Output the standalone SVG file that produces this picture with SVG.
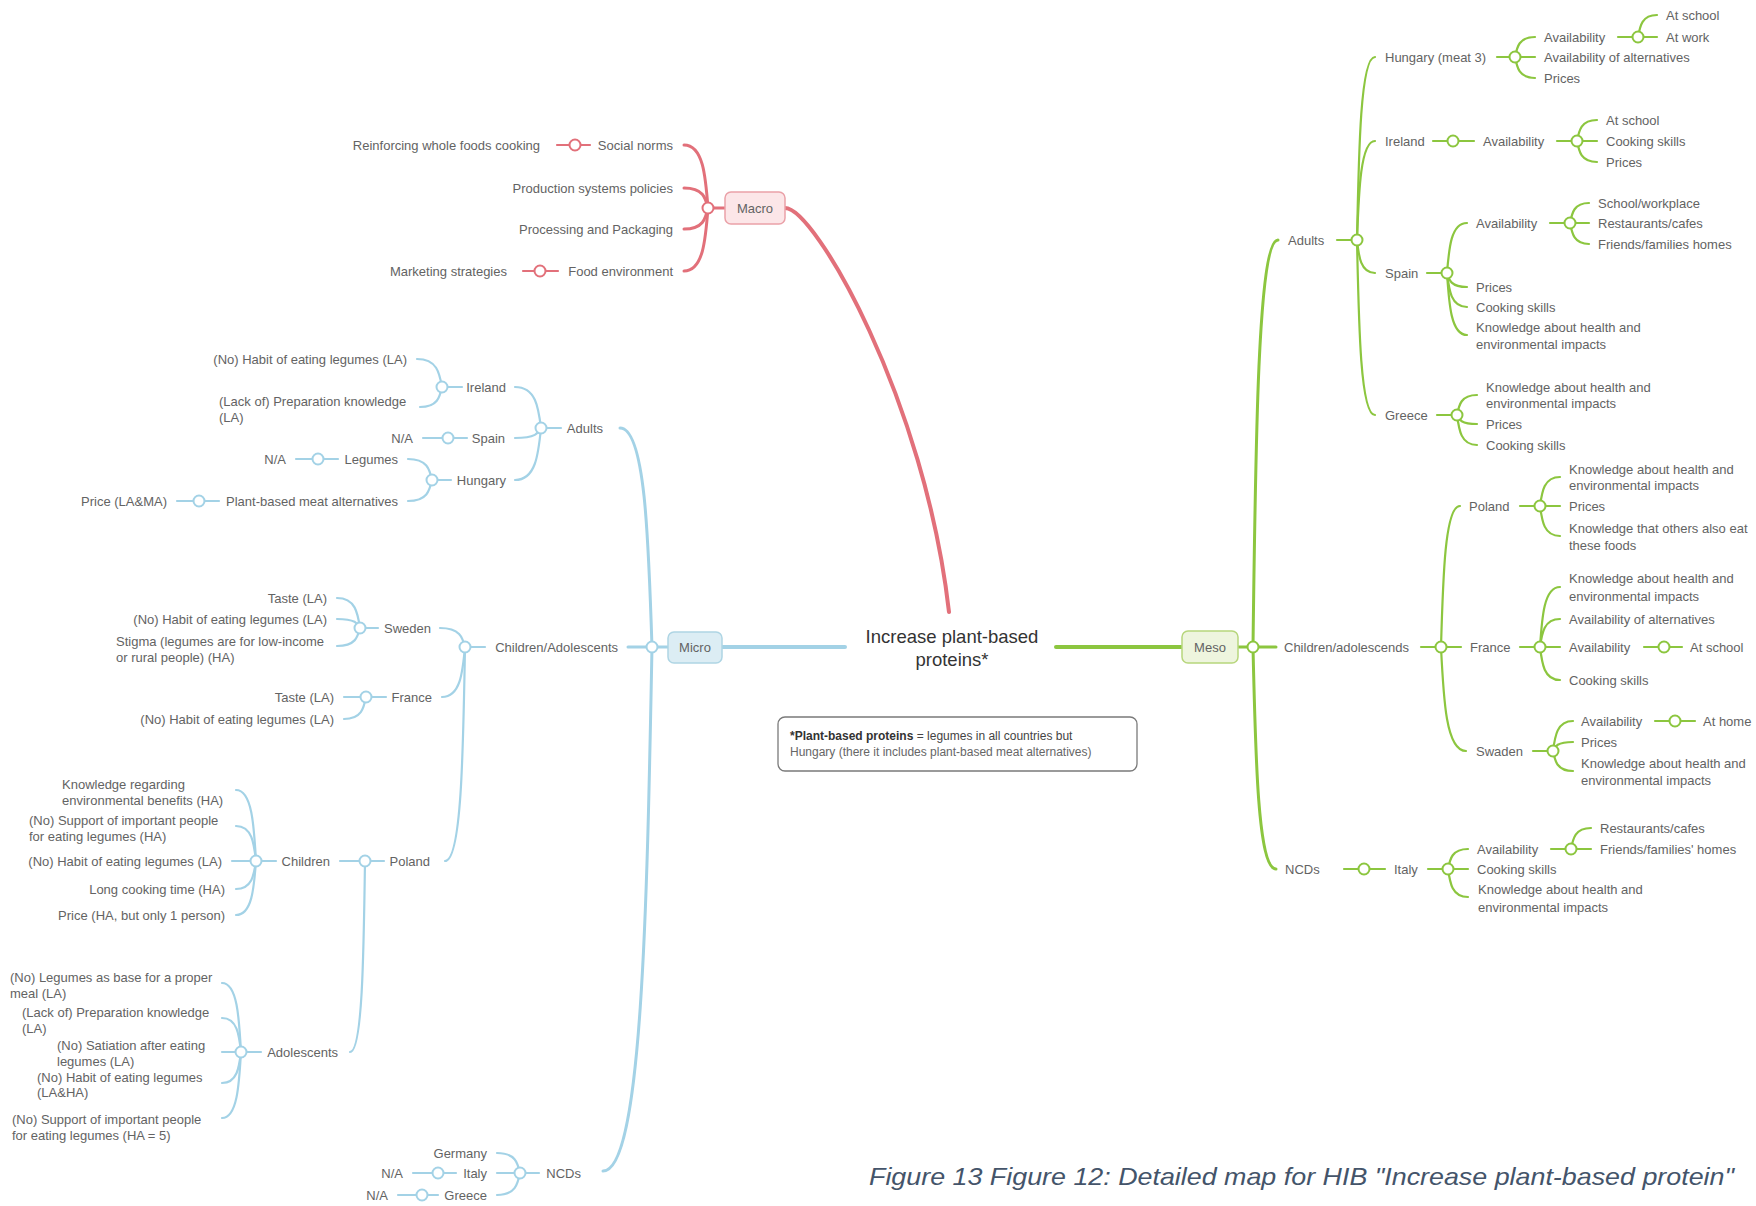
<svg xmlns="http://www.w3.org/2000/svg" width="1756" height="1206" viewBox="0 0 1756 1206">
<style>
text{font-family:"Liberation Sans",Arial,sans-serif;font-size:13px;fill:#636363;dominant-baseline:central}
.e{text-anchor:end}
.m{text-anchor:middle}
.ct{font-size:18.5px;fill:#333}
.c path{fill:none;stroke-linecap:round}
.g{stroke:#8cc63f}
.b{stroke:#a3d2e6}
.r{stroke:#e2707a}
.w1{stroke-width:2.2}
.w2{stroke-width:3}
.w3{stroke-width:4}
circle{fill:#fff;stroke-width:2}
.fn{font-size:12px;fill:#444}
.cap{font-style:italic;font-size:24px;fill:#44546a}
</style>
<rect width="1756" height="1206" fill="#fff"/>
<g id="connectors" class="c">
<path class="r w3" d="M785,208C815,208 925,400 949,612"/>
<path class="b w3" d="M722,647H845"/>
<path class="g w3" d="M1056,647H1182"/>
<g class="r w2">
<path d="M725,208H708"/>
<path d="M708,208C705.6,176.5 703.2,145 684,145"/>
<path d="M708,208C705.6,198 703.2,188 684,188"/>
<path d="M708,208C705.6,218.5 703.2,229 684,229"/>
<path d="M708,208C705.6,239.5 703.2,271 684,271"/>
</g>
<g class="r w1">
<path d="M590,145H557"/>
<path d="M558,271H523"/>
</g>
<g class="g w2">
<path d="M1238,647H1253"/>
<path d="M1253,647C1255.5,443.5 1258,240 1278,240"/>
<path d="M1253,647H1276"/>
<path d="M1253,647C1255.5,758 1258,869 1276,869"/>
</g>
<g class="g w1">
<path d="M1337,240H1357"/>
<path d="M1357,240C1358.8,148.5 1360.6,57 1375,57"/>
<path d="M1357,240C1358.8,190.5 1360.6,141 1375,141"/>
<path d="M1357,240C1358.8,256.5 1360.6,273 1375,273"/>
<path d="M1357,240C1358.8,327.5 1360.6,415 1375,415"/>
<path d="M1497,57H1515"/>
<path d="M1515,57C1517,47 1519,37 1535,37"/>
<path d="M1515,57H1535"/>
<path d="M1515,57C1517,67.5 1519,78 1535,78"/>
<path d="M1618,37H1638"/>
<path d="M1638,37C1640,26 1642,15 1657,15"/>
<path d="M1638,37H1657"/>
<path d="M1433,141H1474"/>
<path d="M1557,141H1577"/>
<path d="M1577,141C1579,130.5 1581,120 1597,120"/>
<path d="M1577,141H1597"/>
<path d="M1577,141C1579,151.5 1581,162 1597,162"/>
<path d="M1427,273H1447"/>
<path d="M1447,273C1449,248 1451,223 1467,223"/>
<path d="M1447,273C1449,280 1451,287 1467,287"/>
<path d="M1447,273C1449,290 1451,307 1467,307"/>
<path d="M1447,273C1449,304 1451,335 1467,335"/>
<path d="M1550,223H1570"/>
<path d="M1570,223C1572,213 1574,203 1589,203"/>
<path d="M1570,223H1589"/>
<path d="M1570,223C1572,233.5 1574,244 1589,244"/>
<path d="M1437,415H1457"/>
<path d="M1457,415C1459,405 1461,395 1477,395"/>
<path d="M1457,415C1459,419.5 1461,424 1477,424"/>
<path d="M1457,415C1459,430 1461,445 1477,445"/>
<path d="M1421,647H1441"/>
<path d="M1441,647C1443,576.5 1445,506 1460,506"/>
<path d="M1441,647H1461"/>
<path d="M1441,647C1443.5,699 1446,751 1466,751"/>
<path d="M1520,506H1540"/>
<path d="M1540,506C1542,491.5 1544,477 1560,477"/>
<path d="M1540,506H1560"/>
<path d="M1540,506C1542,521 1544,536 1560,536"/>
<path d="M1520,647H1540"/>
<path d="M1540,647C1542,617 1544,587 1560,587"/>
<path d="M1540,647C1542,633 1544,619 1560,619"/>
<path d="M1540,647H1560"/>
<path d="M1540,647C1542,663.5 1544,680 1560,680"/>
<path d="M1644,647H1682"/>
<path d="M1533,751H1553"/>
<path d="M1553,751C1555,736 1557,721 1573,721"/>
<path d="M1553,751C1555,746.5 1557,742 1573,742"/>
<path d="M1553,751C1555,761 1557,771 1573,771"/>
<path d="M1655,721H1695"/>
<path d="M1344,869H1385"/>
<path d="M1428,869H1448"/>
<path d="M1448,869C1450,859 1452,849 1468,849"/>
<path d="M1448,869H1468"/>
<path d="M1448,869C1450,883 1452,897 1468,897"/>
<path d="M1551,849H1571"/>
<path d="M1571,849C1573,838.5 1575,828 1591,828"/>
<path d="M1571,849H1591"/>
</g>
<g class="b w2">
<path d="M668,647H652"/>
<path d="M652,647C648.5,537.5 645,428 620,428"/>
<path d="M652,647H628"/>
<path d="M652,647C647,909 642,1171 603,1171"/>
</g>
<g class="b w1">
<path d="M561,428H541"/>
<path d="M541,428C538.4,407.5 535.8,387 515,387"/>
<path d="M541,428C538.4,433 535.8,438 515,438"/>
<path d="M541,428C538.4,454 535.8,480 515,480"/>
<path d="M462,387H442"/>
<path d="M442,387C439.5,373 437,359 417,359"/>
<path d="M442,387C439.8,397 437.6,407 420,407"/>
<path d="M467,438H423"/>
<path d="M451,480H432"/>
<path d="M432,480C429.6,469.5 427.2,459 408,459"/>
<path d="M432,480C429.6,490.5 427.2,501 408,501"/>
<path d="M338,459H296"/>
<path d="M219,501H177"/>
<path d="M485,647H465"/>
<path d="M465,647C462.5,637.5 460,628 440,628"/>
<path d="M465,647C462.7,672 460.4,697 442,697"/>
<path d="M465,647C463.2,754 461.4,861 445,861"/>
<path d="M378,628H360"/>
<path d="M360,628C357.7,613 355.4,598 337,598"/>
<path d="M360,628C357.7,623.5 355.4,619 337,619"/>
<path d="M360,628C357.7,637 355.4,646 337,646"/>
<path d="M386,697H344"/>
<path d="M366,697C363.8,708 361.6,719 344,719"/>
<path d="M384,861H340"/>
<path d="M365,861C363.7,956 362.4,1052 350,1052"/>
<path d="M276,861H256"/>
<path d="M256,861C254,825.5 252,790 236,790"/>
<path d="M256,861C254,843.5 252,826 236,826"/>
<path d="M256,861H232"/>
<path d="M256,861C254,875 252,889 236,889"/>
<path d="M256,861C254,888 252,915 236,915"/>
<path d="M261,1052H241"/>
<path d="M241,1052C239.1,1017.5 237.2,983 222,983"/>
<path d="M241,1052C239.1,1035 237.2,1018 222,1018"/>
<path d="M241,1052H222"/>
<path d="M241,1052C239.1,1067.5 237.2,1083 222,1083"/>
<path d="M241,1052C239.1,1085 237.2,1118 222,1118"/>
<path d="M539,1173H520"/>
<path d="M520,1173C517.7,1163 515.4,1153 497,1153"/>
<path d="M520,1173H497"/>
<path d="M520,1173C517.7,1184 515.4,1195 497,1195"/>
<path d="M456,1173H413"/>
<path d="M438,1195H398"/>
</g>
</g>

<g id="center">
<text class="ct m" x="952" y="636">Increase plant-based</text>
<text class="ct m" x="952" y="659">proteins*</text>
</g>

<g id="macro">
<rect x="725" y="192" width="60" height="32" rx="6" fill="#fce6e8" stroke="#eaa1a8" stroke-width="1.5"/>
<text class="m" x="755" y="208">Macro</text>
<circle class="r" cx="708" cy="208" r="5.5"/>
</g>
<g id="r-social"><text class="e" x="673" y="145">Social norms</text><circle class="r" cx="575" cy="145" r="5.5"/></g>
<g id="r-reinf"><text class="e" x="540" y="145">Reinforcing whole foods cooking</text></g>
<g id="r-prod"><text class="e" x="673" y="188">Production systems policies</text></g>
<g id="r-proc"><text class="e" x="673" y="229">Processing and Packaging</text></g>
<g id="r-food"><text class="e" x="673" y="271">Food environment</text><circle class="r" cx="540" cy="271" r="5.5"/></g>
<g id="r-mkt"><text class="e" x="507" y="271">Marketing strategies</text></g>

<g id="meso">
<rect x="1182" y="631" width="56" height="32" rx="6" fill="#eef5de" stroke="#b7d67c" stroke-width="1.5"/>
<text class="m" x="1210" y="647">Meso</text>
<circle class="g" cx="1253" cy="647" r="5.5"/>
</g>
<g id="g-adults"><text x="1288" y="240">Adults</text><circle class="g" cx="1357" cy="240" r="5.5"/></g>
<g id="g-hun"><text x="1385" y="57">Hungary (meat 3)</text><circle class="g" cx="1515" cy="57" r="5.5"/></g>
<g id="g-hun-av"><text x="1544" y="37">Availability</text><circle class="g" cx="1638" cy="37" r="5.5"/></g>
<g id="g-hun-av-s"><text x="1666" y="15">At school</text></g>
<g id="g-hun-av-w"><text x="1666" y="37">At work</text></g>
<g id="g-hun-alt"><text x="1544" y="57">Availability of alternatives</text></g>
<g id="g-hun-pr"><text x="1544" y="78">Prices</text></g>
<g id="g-ire"><text x="1385" y="141">Ireland</text><circle class="g" cx="1453" cy="141" r="5.5"/></g>
<g id="g-ire-av"><text x="1483" y="141">Availability</text><circle class="g" cx="1577" cy="141" r="5.5"/></g>
<g id="g-ire-av-s"><text x="1606" y="120">At school</text></g>
<g id="g-ire-av-c"><text x="1606" y="141">Cooking skills</text></g>
<g id="g-ire-av-p"><text x="1606" y="162">Prices</text></g>
<g id="g-spa"><text x="1385" y="273">Spain</text><circle class="g" cx="1447" cy="273" r="5.5"/></g>
<g id="g-spa-av"><text x="1476" y="223">Availability</text><circle class="g" cx="1570" cy="223" r="5.5"/></g>
<g id="g-spa-av-1"><text x="1598" y="203">School/workplace</text></g>
<g id="g-spa-av-2"><text x="1598" y="223">Restaurants/cafes</text></g>
<g id="g-spa-av-3"><text x="1598" y="244">Friends/families homes</text></g>
<g id="g-spa-pr"><text x="1476" y="287">Prices</text></g>
<g id="g-spa-ck"><text x="1476" y="307">Cooking skills</text></g>
<g id="g-spa-kn"><text x="1476" y="327">Knowledge about health and</text><text x="1476" y="344">environmental impacts</text></g>
<g id="g-gre"><text x="1385" y="415">Greece</text><circle class="g" cx="1457" cy="415" r="5.5"/></g>
<g id="g-gre-kn"><text x="1486" y="387">Knowledge about health and</text><text x="1486" y="403">environmental impacts</text></g>
<g id="g-gre-pr"><text x="1486" y="424">Prices</text></g>
<g id="g-gre-ck"><text x="1486" y="445">Cooking skills</text></g>
<g id="g-child"><text x="1284" y="647">Children/adolescends</text><circle class="g" cx="1441" cy="647" r="5.5"/></g>
<g id="g-pol"><text x="1469" y="506">Poland</text><circle class="g" cx="1540" cy="506" r="5.5"/></g>
<g id="g-pol-kn"><text x="1569" y="469">Knowledge about health and</text><text x="1569" y="485">environmental impacts</text></g>
<g id="g-pol-pr"><text x="1569" y="506">Prices</text></g>
<g id="g-pol-ko"><text x="1569" y="528">Knowledge that others also eat</text><text x="1569" y="545">these foods</text></g>
<g id="g-fra"><text x="1470" y="647">France</text><circle class="g" cx="1540" cy="647" r="5.5"/></g>
<g id="g-fra-kn"><text x="1569" y="578">Knowledge about health and</text><text x="1569" y="596">environmental impacts</text></g>
<g id="g-fra-alt"><text x="1569" y="619">Availability of alternatives</text></g>
<g id="g-fra-av"><text x="1569" y="647">Availability</text><circle class="g" cx="1664" cy="647" r="5.5"/></g>
<g id="g-fra-av-s"><text x="1690" y="647">At school</text></g>
<g id="g-fra-ck"><text x="1569" y="680">Cooking skills</text></g>
<g id="g-swe"><text x="1476" y="751">Swaden</text><circle class="g" cx="1553" cy="751" r="5.5"/></g>
<g id="g-swe-av"><text x="1581" y="721">Availability</text><circle class="g" cx="1675" cy="721" r="5.5"/></g>
<g id="g-swe-av-h"><text x="1703" y="721">At home</text></g>
<g id="g-swe-pr"><text x="1581" y="742">Prices</text></g>
<g id="g-swe-kn"><text x="1581" y="763">Knowledge about health and</text><text x="1581" y="780">environmental impacts</text></g>
<g id="g-ncd"><text x="1285" y="869">NCDs</text><circle class="g" cx="1364" cy="869" r="5.5"/></g>
<g id="g-ita"><text x="1394" y="869">Italy</text><circle class="g" cx="1448" cy="869" r="5.5"/></g>
<g id="g-ita-av"><text x="1477" y="849">Availability</text><circle class="g" cx="1571" cy="849" r="5.5"/></g>
<g id="g-ita-av-1"><text x="1600" y="828">Restaurants/cafes</text></g>
<g id="g-ita-av-2"><text x="1600" y="849">Friends/families' homes</text></g>
<g id="g-ita-ck"><text x="1477" y="869">Cooking skills</text></g>
<g id="g-ita-kn"><text x="1478" y="889">Knowledge about health and</text><text x="1478" y="907">environmental impacts</text></g>

<g id="micro">
<rect x="668" y="632" width="54" height="31" rx="6" fill="#dcedf4" stroke="#aed5e4" stroke-width="1.5"/>
<text class="m" x="695" y="647.5">Micro</text>
<circle class="b" cx="652" cy="647" r="5.5"/>
</g>
<g id="b-adults"><text class="e" x="603" y="428">Adults</text><circle class="b" cx="541" cy="428" r="5.5"/></g>
<g id="b-ire"><text class="e" x="506" y="387">Ireland</text><circle class="b" cx="442" cy="387" r="5.5"/></g>
<g id="b-ire-1"><text class="e" x="407" y="359">(No) Habit of eating legumes (LA)</text></g>
<g id="b-ire-2"><text x="219" y="401">(Lack of) Preparation knowledge</text><text x="219" y="417">(LA)</text></g>
<g id="b-spa"><text class="e" x="505" y="438">Spain</text><circle class="b" cx="448" cy="438" r="5.5"/></g>
<g id="b-spa-1"><text class="e" x="413" y="438">N/A</text></g>
<g id="b-hun"><text class="e" x="506" y="480">Hungary</text><circle class="b" cx="432" cy="480" r="5.5"/></g>
<g id="b-hun-leg"><text class="e" x="398" y="459">Legumes</text><circle class="b" cx="318" cy="459" r="5.5"/></g>
<g id="b-hun-leg-1"><text class="e" x="286" y="459">N/A</text></g>
<g id="b-hun-pb"><text class="e" x="398" y="501">Plant-based meat alternatives</text><circle class="b" cx="199" cy="501" r="5.5"/></g>
<g id="b-hun-pb-1"><text class="e" x="167" y="501">Price (LA&amp;MA)</text></g>
<g id="b-child"><text class="e" x="618" y="647">Children/Adolescents</text><circle class="b" cx="465" cy="647" r="5.5"/></g>
<g id="b-swe"><text class="e" x="431" y="628">Sweden</text><circle class="b" cx="360" cy="628" r="5.5"/></g>
<g id="b-swe-1"><text class="e" x="327" y="598">Taste (LA)</text></g>
<g id="b-swe-2"><text class="e" x="327" y="619">(No) Habit of eating legumes (LA)</text></g>
<g id="b-swe-3"><text x="116" y="641">Stigma (legumes are for low-income</text><text x="116" y="657">or rural people) (HA)</text></g>
<g id="b-fra"><text class="e" x="432" y="697">France</text><circle class="b" cx="366" cy="697" r="5.5"/></g>
<g id="b-fra-1"><text class="e" x="334" y="697">Taste (LA)</text></g>
<g id="b-fra-2"><text class="e" x="334" y="719">(No) Habit of eating legumes (LA)</text></g>
<g id="b-pol"><text class="e" x="430" y="861">Poland</text><circle class="b" cx="365" cy="861" r="5.5"/></g>
<g id="b-pol-ch"><text class="e" x="330" y="861">Children</text><circle class="b" cx="256" cy="861" r="5.5"/></g>
<g id="b-pol-ch-1"><text x="62" y="784">Knowledge regarding</text><text x="62" y="800">environmental benefits (HA)</text></g>
<g id="b-pol-ch-2"><text x="29" y="820">(No) Support of important people</text><text x="29" y="836">for eating legumes (HA)</text></g>
<g id="b-pol-ch-3"><text class="e" x="222" y="861">(No) Habit of eating legumes (LA)</text></g>
<g id="b-pol-ch-4"><text class="e" x="225" y="889">Long cooking time (HA)</text></g>
<g id="b-pol-ch-5"><text class="e" x="225" y="915">Price (HA, but only 1 person)</text></g>
<g id="b-pol-ad"><text class="e" x="338" y="1052">Adolescents</text><circle class="b" cx="241" cy="1052" r="5.5"/></g>
<g id="b-pol-ad-1"><text x="10" y="977">(No) Legumes as base for a proper</text><text x="10" y="993">meal (LA)</text></g>
<g id="b-pol-ad-2"><text x="22" y="1012">(Lack of) Preparation knowledge</text><text x="22" y="1028">(LA)</text></g>
<g id="b-pol-ad-3"><text x="57" y="1045">(No) Satiation after eating</text><text x="57" y="1061">legumes (LA)</text></g>
<g id="b-pol-ad-4"><text x="37" y="1077">(No) Habit of eating legumes</text><text x="37" y="1092">(LA&amp;HA)</text></g>
<g id="b-pol-ad-5"><text x="12" y="1119">(No) Support of important people</text><text x="12" y="1135">for eating legumes (HA = 5)</text></g>
<g id="b-ncd"><text class="e" x="581" y="1173">NCDs</text><circle class="b" cx="520" cy="1173" r="5.5"/></g>
<g id="b-ncd-ger"><text class="e" x="487" y="1153">Germany</text></g>
<g id="b-ncd-ita"><text class="e" x="487" y="1173">Italy</text><circle class="b" cx="438" cy="1173" r="5.5"/></g>
<g id="b-ncd-ita-1"><text class="e" x="403" y="1173">N/A</text></g>
<g id="b-ncd-gre"><text class="e" x="487" y="1195">Greece</text><circle class="b" cx="422" cy="1195" r="5.5"/></g>
<g id="b-ncd-gre-1"><text class="e" x="388" y="1195">N/A</text></g>

<g id="footnote">
<rect x="778" y="717" width="359" height="54" rx="7" fill="#fff" stroke="#7a7a7a" stroke-width="1.3"/>
<text class="fn" x="790" y="736"><tspan font-weight="bold" fill="#333">*Plant-based proteins</tspan> = legumes in all countries but</text>
<text class="fn" x="790" y="752" style="fill:#666">Hungary (there it includes plant-based meat alternatives)</text>
</g>

<g id="caption">
<text class="cap" x="869" y="1176" textLength="865" lengthAdjust="spacingAndGlyphs">Figure 13 Figure 12: Detailed map for HIB "Increase plant-based protein"</text>
</g>
</svg>
